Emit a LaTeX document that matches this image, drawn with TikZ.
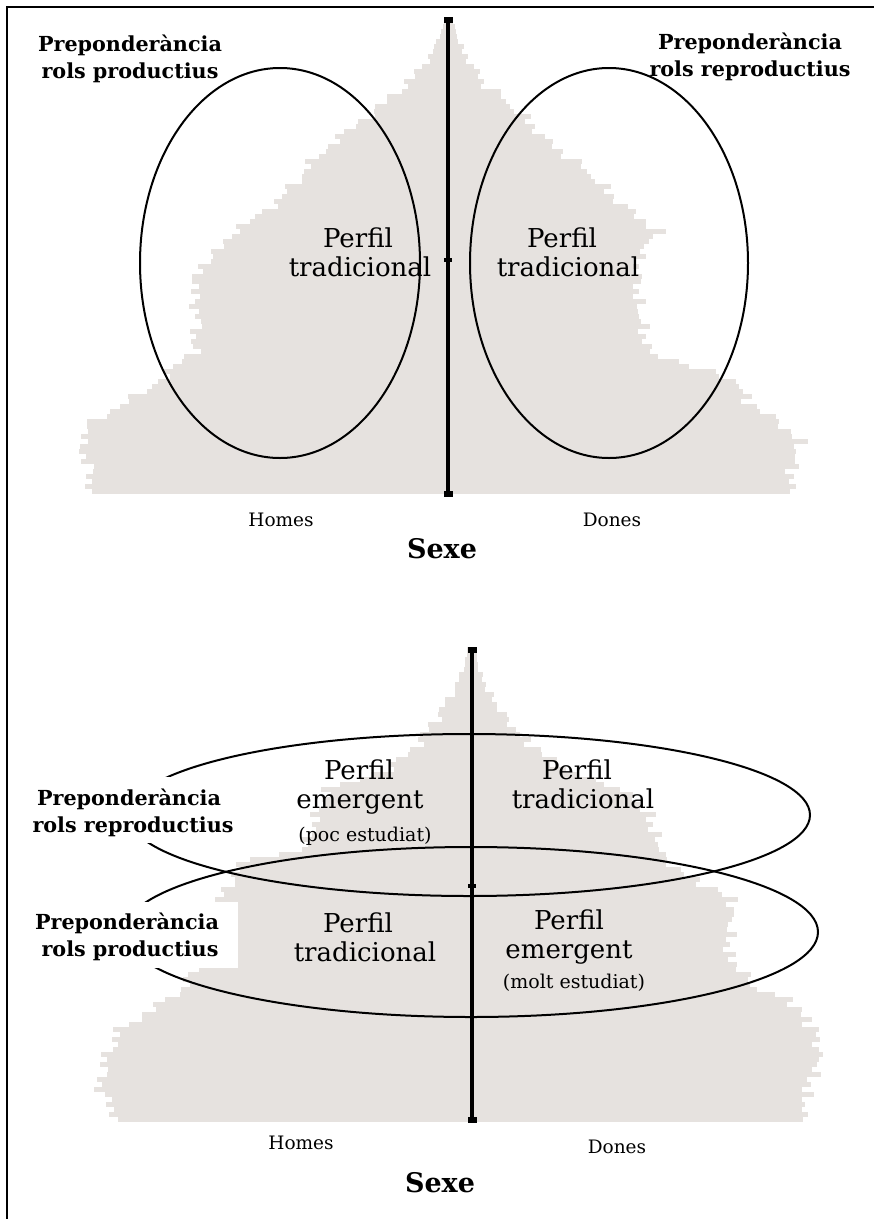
\documentclass[tikz,border=0pt]{standalone}
\usepackage{fontspec}
\setmainfont{DejaVu Serif}
\usetikzlibrary{calc}
\definecolor{pyrgray}{RGB}{230,226,223}
\tikzset{
  pyr/.style={fill=pyrgray},
  axisline/.style={line width=4.5pt},
  ovalline/.style={line width=2pt},
  frameline/.style={line width=1.5pt},
  boldlbl/.style={font=\bfseries\fontsize{20.7}{27}\selectfont, anchor=base, inner sep=0pt},
  perfil/.style={font=\fontsize{26}{30}\selectfont, anchor=base, inner sep=0pt},
  paren/.style={font=\fontsize{19}{22}\selectfont, anchor=base, inner sep=0pt},
  sexlbl/.style={font=\fontsize{18.5}{22}\selectfont, anchor=base, inner sep=0pt},
  sexetitle/.style={font=\bfseries\fontsize{27}{30}\selectfont, anchor=base, inner sep=0pt},
}
\newcommand\pyrside[5]{%
  \foreach \ia/\wa/\ib/\wb in {#5} {
    \pgfmathtruncatemacro\nn{\ib-\ia-1}
    \foreach \k in {0,...,\nn} {
      \pgfmathtruncatemacro\ii{\ia+\k}
      \pgfmathsetmacro\bw{\wa+(\wb-\wa)*\k/(\ib-\ia)}
      \pgfmathsetmacro\ww{max(1,\bw+min(1,\bw/40)*(5*sin(\ii*(137.5+#4))+3.5*sin(\ii*(61.3+#4))))}
      \fill[pyr] (#1,{#2-5*\ii}) rectangle ({#1+#3*\ww},{#2-5*\ii-5.4});
    }
  }
}
\begin{document}
\begin{tikzpicture}[x=1pt,y=-1pt]
\useasboundingbox (0,0) rectangle (874,1219);
% frame (top and left only)
\draw[frameline] (7,1219) -- (7,7) -- (874,7);

% ---------- top pyramid ----------
\pyrside{448}{494}{-1}{0}{0/356/5/360, 5/360/10/368, 10/368/14/355, 14/355/17/330, 17/330/20/303, 20/303/23/285, 23/285/28/255, 28/255/35/250, 35/250/40/255, 40/255/45/248, 45/248/48/230, 48/230/52/215, 52/215/55/190, 55/190/60/160, 60/160/65/140, 65/140/70/115, 70/115/75/80, 75/80/80/50, 80/50/85/25, 85/25/90/10, 90/10/95/3}
\pyrside{448}{494}{1}{17}{0/342/5/345, 5/345/10/352, 10/352/14/330, 14/330/18/300, 18/300/22/290, 22/290/28/200, 28/200/38/190, 38/190/47/190, 47/190/52/210, 52/210/58/170, 58/170/64/140, 64/140/70/100, 70/100/76/70, 76/70/82/35, 82/35/88/15, 88/15/95/3}

\draw[ovalline] (280,263) ellipse [x radius=140, y radius=195];
\draw[ovalline] (609,263) ellipse [x radius=139, y radius=195];

\coordinate (ta) at (448,20);
\coordinate (tm) at (448,260);
\coordinate (tb) at (448,494);
\draw[axisline] (ta) -- (tb);
\fill ($(ta)+(-4.5,-3)$) rectangle ($(ta)+(4.5,3)$);
\fill ($(tm)+(-4,-2)$) rectangle ($(tm)+(4,2)$);
\fill ($(tb)+(-4.5,-3)$) rectangle ($(tb)+(4.5,3)$);

\node[boldlbl] (tl1) at (130,51) {Preponderància};
\node[boldlbl] (tl2) at (130,78) {rols productius};
\node[boldlbl] (tr1) at (750,49) {Preponderància};
\node[boldlbl] (tr2) at (750,76) {rols reproductius};
\node[perfil] (tp1a) at (358,247) {Perfil};
\node[perfil] (tp1b) at (360,276) {tradicional};
\node[perfil] (tp2a) at (562,247) {Perfil};
\node[perfil] (tp2b) at (568,276) {tradicional};
\node[sexlbl] (th) at (281,526) {Homes};
\node[sexlbl] (td) at (612,526) {Dones};
\node[sexetitle] (ts) at (442,558) {Sexe};

% ---------- bottom pyramid ----------
\pyrside{472}{1122}{-1}{5}{0/354/6/372, 6/372/12/367, 12/367/18/352, 18/352/22/320, 22/320/26/290, 26/290/33/268, 33/268/44/252, 44/252/49/237, 49/237/52/226, 52/226/54/168, 54/168/56/164, 56/164/66/145, 66/145/70/85, 70/85/74/60, 74/60/78/44, 78/44/82/30, 82/30/86/18, 86/18/90/9, 90/9/95/3}
\pyrside{472}{1122}{1}{29}{0/331/6/335, 6/335/12/348, 12/348/18/343, 18/343/24/318, 24/318/26/285, 26/285/33/256, 33/256/44/261, 44/261/49/213, 49/213/52/193, 52/193/56/185, 56/185/62/174, 62/174/66/150, 66/150/70/92, 70/92/74/65, 74/65/78/43, 78/43/82/28, 82/28/86/15, 86/15/90/7, 90/7/95/3}

\draw[ovalline] (469,815) ellipse [x radius=341, y radius=81];
\draw[ovalline] (471,932) ellipse [x radius=347, y radius=85];

\coordinate (ba) at (472,650);
\coordinate (bm) at (472,886);
\coordinate (bb) at (472,1120);
\draw[axisline] (ba) -- (bb);
\fill ($(ba)+(-4.5,-3)$) rectangle ($(ba)+(4.5,3)$);
\fill ($(bm)+(-4,-2)$) rectangle ($(bm)+(4,2)$);
\fill ($(bb)+(-4.5,-3)$) rectangle ($(bb)+(4.5,3)$);

% white grounds behind the left labels
\fill[white] (24,777) rectangle (242,843);
\fill[white] (24,902) rectangle (238,968);
\node[boldlbl] (bl1a) at (129,805) {Preponderància};
\node[boldlbl] (bl1b) at (133,832) {rols reproductius};
\node[boldlbl] (bl2a) at (127,929) {Preponderància};
\node[boldlbl] (bl2b) at (130,956) {rols productius};

\node[perfil] (bp1a) at (359,779) {Perfil};
\node[perfil] (bp1b) at (360,808) {emergent};
\node[paren]  (bp1c) at (365,841) {(poc estudiat)};
\node[perfil] (bp2a) at (577,779) {Perfil};
\node[perfil] (bp2b) at (583,808) {tradicional};
\node[perfil] (bp3a) at (358,932) {Perfil};
\node[perfil] (bp3b) at (365,961) {tradicional};
\node[perfil] (bp4a) at (569,929) {Perfil};
\node[perfil] (bp4b) at (569,958) {emergent};
\node[paren]  (bp4c) at (574,988) {(molt estudiat)};
\node[sexlbl] (bh) at (301,1149) {Homes};
\node[sexlbl] (bd) at (617,1153) {Dones};
\node[sexetitle] (bs) at (440,1192) {Sexe};
\end{tikzpicture}
\end{document}
